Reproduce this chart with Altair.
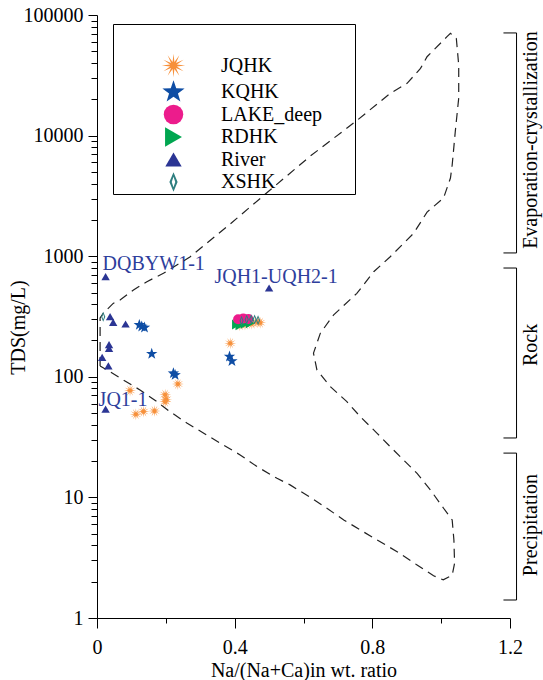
import altair as alt
import pandas as pd

FONT = "Liberation Serif"

# ---------------- series ----------------
groups = ["JQHK", "KQHK", "LAKE_deep", "RDHK", "River", "XSHK"]
group_colors = ["#F7903A", "#0E4DA4", "#EC1C8C", "#00A650", "#2B3594", "#2F7F80"]
asterisk = ("M1.2,0L0.348,0.094L1.039,0.6L0.254,0.254L0.6,1.039L0.094,0.348L0,1.2L-0.094,0.348"
            "L-0.6,1.039L-0.254,0.254L-1.039,0.6L-0.348,0.094L-1.2,0L-0.348,-0.094L-1.039,-0.6"
            "L-0.254,-0.254L-0.6,-1.039L-0.094,-0.348L0,-1.2L0.094,-0.348L0.6,-1.039L0.254,-0.254"
            "L1.039,-0.6L0.348,-0.094Z")
star = ("M0,-1.2L0.282,-0.389L1.141,-0.371L0.456,0.149L0.706,0.971L0,0.48L-0.706,0.971"
        "L-0.456,0.149L-1.141,-0.371L-0.282,-0.389Z")
tri_up = "M0,-0.72L-0.84,0.72L0.84,0.72Z"
diamond = "M0,-1L0.42,0L0,1L-0.42,0ZM0,-0.55L-0.18,0L0,0.55L0.18,0Z"
group_shapes = [asterisk, star, "circle", "triangle-right", tri_up, diamond]

river_x = [0.025, 0.50, 0.038, 0.047, 0.083, 0.035, 0.035, 0.015, 0.033, 0.025]
river_tds = [676, 545, 315, 283, 274, 185, 172, 145, 123, 54]

jqhk_x = [0.387, 0.235, 0.096, 0.198, 0.201, 0.198, 0.167, 0.135, 0.113, 0.474, 0.43, 0.45, 0.465, 0.415]
jqhk_tds = [190, 87, 77, 71, 65, 62, 52, 51.5, 49, 281, 272, 275, 285, 268]

kqhk_x = [0.123, 0.13, 0.138, 0.159, 0.222, 0.227, 0.385, 0.392]
kqhk_tds = [269, 261, 256, 155, 107, 103.5, 147, 135]

rdhk_x = [0.405, 0.415, 0.43, 0.445]
rdhk_tds = [272, 268, 275, 278]

lake_x = [0.41, 0.425, 0.44]
lake_tds = [300, 305, 302]

xshk_x = [0.018, 0.42, 0.435, 0.448, 0.458, 0.468]
xshk_tds = [315, 292, 298, 300, 298, 295]

# Gibbs boundary (dashed envelope)
bound_x = [0.009, 0.009, 0.018, 0.047, 0.067, 0.106, 0.145, 0.193, 0.232, 0.271,
           0.387, 0.503, 0.620, 0.753, 0.852, 0.901, 0.940, 0.959, 1.017, 1.027,
           1.044, 1.051, 1.051, 1.041, 1.032, 1.027, 1.007, 0.959, 0.920, 0.852,
           0.804, 0.755, 0.687, 0.649, 0.629, 0.639, 0.678, 0.726, 0.765, 0.814,
           0.852, 0.891, 0.930, 0.969, 1.007, 1.032, 1.037, 1.039, 1.032, 1.006,
           0.978, 0.930, 0.872, 0.814, 0.765, 0.717, 0.668, 0.620, 0.561, 0.523,
           0.465, 0.416, 0.367, 0.319, 0.261, 0.212, 0.174, 0.125, 0.077, 0.038, 0.009]
bound_tds = [123, 308, 336, 406, 433, 525, 615, 721, 845, 990,
             1849, 3540, 6770, 13200, 22400, 27100, 36100, 45100, 66100, 70500,
             64100, 38500, 20500, 10800, 5700, 4450, 3040, 2320, 1549, 990,
             743, 492, 325, 230, 157, 114, 82.8, 62.2, 46.7, 34.0,
             26.3, 20.4, 15.8, 11.5, 8.13, 6.50, 4.43, 2.84, 2.27, 2.07,
             2.24, 2.75, 3.55, 4.43, 5.37, 6.50, 8.13, 10.0, 12.7, 14.4,
             18.0, 22.5, 27.2, 32.9, 41.4, 51.4, 62.2, 77.8, 94.0, 110, 123]

# sample labels (anchored at River points)
label_text = ["DQBYW1-1", "JQH1-UQH2-1", "JQ1-1"]
label_x = [0.025, 0.50, 0.025]
label_tds = [676, 545, 54]
label_dx = [-3, 7, -7]
label_dy = [-13, -11, -9]
label_align = ["left", "center", "left"]

# right-side process brackets
zone_names = ["Evaporation-crystallization", "Rock", "Precipitation"]
zone_top = [71000, 798, 23.3]
zone_bottom = [1064, 31.1, 1.41]
zone_mid = [9190, 184, 5.9]

x_ticks = [0, 0.2, 0.4, 0.6, 0.8, 1.0, 1.2]
y_major = [1, 10, 100, 1000, 10000, 100000]
y_ticks = y_major + [m * d for d in [1, 10, 100, 1000, 10000] for m in range(2, 10)]

# ---------------- tables ----------------
rows = []
for g, xs_, ts_ in [("River", river_x, river_tds), ("JQHK", jqhk_x, jqhk_tds),
                    ("KQHK", kqhk_x, kqhk_tds), ("RDHK", rdhk_x, rdhk_tds),
                    ("LAKE_deep", lake_x, lake_tds), ("XSHK", xshk_x, xshk_tds)]:
    for a, b in zip(xs_, ts_):
        rows.append({"group": g, "x": a, "tds": b})
pts = pd.DataFrame(rows)
bdf = pd.DataFrame({"i": range(len(bound_x)), "x": bound_x, "tds": bound_tds})
zdf = pd.DataFrame({"name": zone_names, "top": zone_top, "bottom": zone_bottom, "mid": zone_mid})
zticks = pd.DataFrame({"y": zone_top + zone_bottom})

xs = alt.Scale(domain=[0, 1.2], nice=False, zero=False)
ys = alt.Scale(type="log", domain=[1, 100000], nice=False)

x_major_test = "round(datum.value * 10) % 4 == 0"
y_major_test = "indexof([1, 10, 100, 1000, 10000, 100000], datum.value) >= 0"

main_x = alt.Axis(values=x_ticks, orient="bottom", grid=False,
                  tickSize={"condition": {"test": x_major_test, "value": 10}, "value": 5},
                  labelExpr="round(datum.value * 10) % 4 == 0 ? (datum.value == 0 ? '0' : format(datum.value, '.1f')) : ''",
                  labelPadding=9, titlePadding=3, title="Na/(Na+Ca)in wt. ratio")
main_y = alt.Axis(values=y_ticks, orient="left", grid=False,
                  tickSize={"condition": {"test": y_major_test, "value": 9}, "value": 6},
                  labelExpr="indexof([1, 10, 100, 1000, 10000, 100000], datum.value) >= 0 ? format(datum.value, 'd') : ''",
                  labelPadding=5, titleX=-79, titleY=312, titleBaseline="middle",
                  title="TDS(mg/L)")

pad = "\u00a0" * 6 + "\u200b"
leg = alt.Legend(orient="none", legendX=16, legendY=9, padding=2, strokeColor="black",
                 symbolSize=380, symbolOffset=48, labelOffset=37, rowPadding=1.5,
                 labelFont=FONT, labelFontSize=20, titleFont=FONT, titleFontSize=20,
                 titlePadding=9, labelExpr="datum.label + '" + pad + "'")

line = alt.Chart(bdf).mark_line(strokeDash=[9, 6], color="#222222", strokeWidth=1.2).encode(
    x=alt.X("x:Q", scale=xs, axis=main_x),
    y=alt.Y("tds:Q", scale=ys, axis=main_y),
    order="i:Q",
)

points = alt.Chart(pts).mark_point(filled=True, opacity=1, size=100).encode(
    x=alt.X("x:Q", scale=xs),
    y=alt.Y("tds:Q", scale=ys),
    color=alt.Color("group:N", scale=alt.Scale(domain=groups, range=group_colors), title=" ", legend=leg),
    shape=alt.Shape("group:N", scale=alt.Scale(domain=groups, range=group_shapes), title=" ", legend=leg),
)

labels = []
for t, lx, ly, ddx, ddy, al in zip(label_text, label_x, label_tds, label_dx, label_dy, label_align):
    labels.append(
        alt.Chart(pd.DataFrame({"t": [t], "x": [lx], "tds": [ly]}))
        .mark_text(font=FONT, fontSize=20, color="#2E3E9C", align=al, baseline="middle", dx=ddx, dy=ddy)
        .encode(x=alt.X("x:Q", scale=xs), y=alt.Y("tds:Q", scale=ys), text="t:N")
    )

brk_v = alt.Chart(zdf).mark_rule(color="black", strokeWidth=1).encode(
    x=alt.datum(1.219), y=alt.Y("top:Q", scale=ys), y2="bottom:Q")
brk_h = alt.Chart(zticks).mark_rule(color="black", strokeWidth=1).encode(
    x=alt.datum(1.181), x2=alt.datum(1.219), y=alt.Y("y:Q", scale=ys))
brk_t = alt.Chart(zdf).mark_text(font=FONT, fontSize=20, color="black", angle=270,
                                 align="center", baseline="middle").encode(
    x=alt.datum(1.262), y=alt.Y("mid:Q", scale=ys), text="name:N")

chart = (
    alt.layer(line, points, *labels, brk_v, brk_h, brk_t)
    .properties(width=413, height=603, autosize="none",
                padding={"left": 97, "top": 15, "right": 33, "bottom": 62})
    .configure_view(stroke=None)
    .configure_axis(labelFont=FONT, titleFont=FONT, labelFontSize=20, titleFontSize=20,
                    labelColor="black", titleColor="black", domainColor="black",
                    tickColor="black", titleFontWeight="normal", labelFlush=False, labelOverlap=False)
)

chart.save("out.html", embed_options={"renderer": "svg", "actions": False})
